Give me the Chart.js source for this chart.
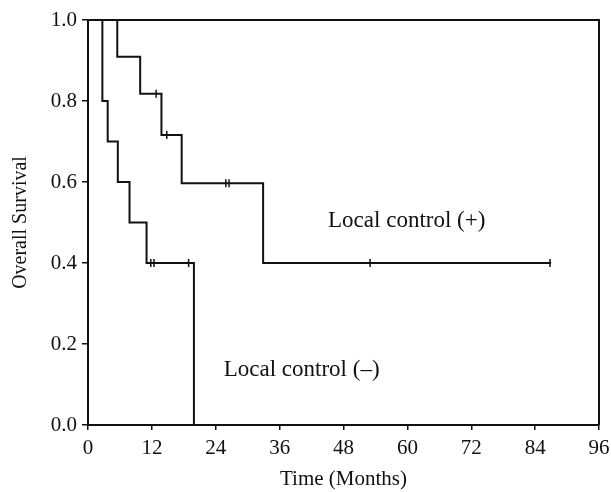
<!DOCTYPE html>
<html>
<head>
<meta charset="utf-8">
<script src="https://cdn.jsdelivr.net/npm/chart.js@4/dist/chart.umd.min.js"></script>
<style>
	html, body { margin: 0; padding: 0; background: #fff; }
	#wrap { width: 611px; height: 492px; }
</style>
</head>
<body>
<div id="wrap"><canvas id="km"></canvas></div>
<script>
// Kaplan-Meier steps (time in months, survival)
const plusTimes = [0, 5.5, 9.8, 13.8, 17.6, 32.9, 87];
const plusSurv = [1, 0.909, 0.818, 0.716, 0.597, 0.4, 0.4];
const plusCensorTimes = [12.8, 14.8, 25.9, 26.5, 53.0, 86.8];
const plusCensorSurv = [0.818, 0.716, 0.597, 0.597, 0.4, 0.4];

const minusTimes = [0, 2.7, 3.7, 5.6, 7.8, 11.0, 19.9];
const minusSurv = [1, 0.8, 0.7, 0.6, 0.5, 0.4, 0];
const minusCensorTimes = [11.8, 12.4, 18.9];
const minusCensorSurv = [0.4, 0.4, 0.4];

const xTicks = [0, 12, 24, 36, 48, 60, 72, 84, 96];
const yTicks = [0, 0.2, 0.4, 0.6, 0.8, 1.0];

const curveLabels = ['Local control (+)', 'Local control (\u2013)'];
const curveLabelX = [45.1, 25.5];
const curveLabelY = [0.504, 0.135];

const serif = '"Liberation Serif", "DejaVu Serif", serif';
const ink = '#111';

const toPoints = (xs, ys) => xs.map((x, i) => ({ x, y: ys[i] }));

const stepDataset = (xs, ys) => ({
	data: toPoints(xs, ys),
	showLine: true,
	stepped: 'before',
	borderColor: ink,
	borderWidth: 2,
	pointRadius: 0,
	fill: false,
});

const censorDataset = (xs, ys) => ({
	data: toPoints(xs, ys),
	showLine: false,
	pointStyle: 'line',
	rotation: 90,
	pointRadius: 4,
	borderColor: ink,
	borderWidth: 1.5,
});

const frameAndLabels = {
	id: 'frameAndLabels',
	afterDatasetsDraw(chart) {
		const { ctx, chartArea, scales } = chart;
		ctx.save();
		ctx.strokeStyle = ink;
		ctx.lineWidth = 2;
		ctx.beginPath();
		ctx.moveTo(chartArea.left, chartArea.top);
		ctx.lineTo(chartArea.right, chartArea.top);
		ctx.lineTo(chartArea.right, chartArea.bottom);
		ctx.stroke();

		ctx.fillStyle = ink;
		ctx.font = `23px ${serif}`;
		ctx.textAlign = 'left';
		ctx.textBaseline = 'middle';
		curveLabels.forEach((text, i) => {
			ctx.fillText(
				text,
				scales.x.getPixelForValue(curveLabelX[i]),
				scales.y.getPixelForValue(curveLabelY[i]),
			);
		});
		ctx.restore();
	},
};

new Chart(document.getElementById('km'), {
	type: 'scatter',
	data: {
		datasets: [
			stepDataset(plusTimes, plusSurv),
			censorDataset(plusCensorTimes, plusCensorSurv),
			stepDataset(minusTimes, minusSurv),
			censorDataset(minusCensorTimes, minusCensorSurv),
		],
	},
	options: {
		responsive: true,
		maintainAspectRatio: false,
		animation: false,
		layout: {
			padding: { left: 0, right: 12, top: 20, bottom: 0 },
		},
		plugins: {
			legend: { display: false },
			tooltip: { enabled: false },
		},
		scales: {
			x: {
				type: 'linear',
				min: 0,
				max: 96,
				afterFit: (scale) => {
					scale.height = 67;
					scale.paddingLeft = 0;
					scale.paddingRight = 0;
				},
				afterBuildTicks: (scale) => {
					scale.ticks = xTicks.map((value) => ({ value }));
				},
				border: { display: true, color: ink, width: 2 },
				grid: {
					display: true,
					drawOnChartArea: false,
					drawTicks: true,
					tickLength: 5,
					color: ink,
					lineWidth: 1.5,
				},
				ticks: {
					color: ink,
					padding: 6,
					maxRotation: 0,
					font: { family: serif, size: 21 },
				},
				title: {
					display: true,
					text: 'Time (Months)',
					color: ink,
					padding: { top: 0, bottom: 0 },
					font: { family: serif, size: 21 },
				},
			},
			y: {
				type: 'linear',
				min: 0,
				max: 1,
				afterFit: (scale) => { scale.width = 88; },
				afterBuildTicks: (scale) => {
					scale.ticks = yTicks.map((value) => ({ value }));
				},
				border: { display: true, color: ink, width: 2 },
				grid: {
					display: true,
					drawOnChartArea: false,
					drawTicks: true,
					tickLength: 6,
					color: ink,
					lineWidth: 1.5,
				},
				ticks: {
					color: ink,
					padding: 5,
					callback: (v) => Number(v).toFixed(1),
					font: { family: serif, size: 21 },
				},
				title: {
					display: true,
					text: 'Overall Survival',
					color: ink,
					padding: { top: 9, bottom: 0 },
					font: { family: serif, size: 20 },
				},
			},
		},
	},
	plugins: [frameAndLabels],
});
</script>
</body>
</html>
